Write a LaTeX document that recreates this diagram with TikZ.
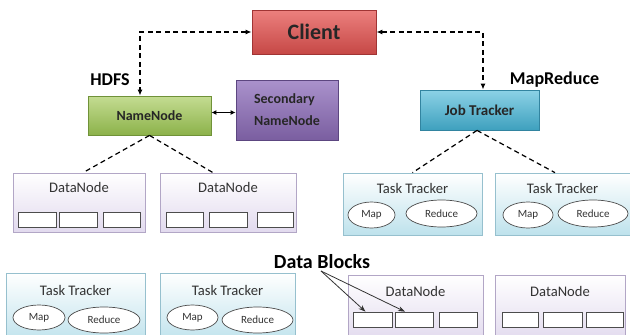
\documentclass[tikz,border=0pt]{standalone}
\usepackage{fontspec}
\setmainfont{Carlito}
\usetikzlibrary{shapes.geometric,shadows,arrows.meta,calc}
\definecolor{clA}{RGB}{236,128,126}
\definecolor{clB}{RGB}{198,72,70}
\definecolor{clD}{RGB}{160,52,52}
\definecolor{nnA}{RGB}{196,220,146}
\definecolor{nnB}{RGB}{140,178,74}
\definecolor{nnD}{RGB}{112,146,56}
\definecolor{snA}{RGB}{170,146,204}
\definecolor{snB}{RGB}{122,94,160}
\definecolor{snD}{RGB}{92,70,128}
\definecolor{jtA}{RGB}{140,210,230}
\definecolor{jtB}{RGB}{62,160,190}
\definecolor{jtD}{RGB}{50,132,160}
\definecolor{dnB}{RGB}{226,218,238}
\definecolor{dnD}{RGB}{178,166,198}
\definecolor{ttB}{RGB}{190,226,236}
\definecolor{ttD}{RGB}{150,192,206}
\tikzset{
  shbox/.style={draw, rectangle, inner sep=0pt, line width=0.8pt,
    drop shadow={opacity=0.35, shadow xshift=1.3pt, shadow yshift=-1.3pt}},
  clientbox/.style={shbox, top color=clA, bottom color=clB, draw=clD,
    minimum width=124pt, minimum height=44pt,
    font=\bfseries\fontsize{22}{24}\selectfont, text=black!85},
  nnbox/.style={shbox, top color=nnA, bottom color=nnB, draw=nnD,
    minimum width=123pt, minimum height=39pt,
    font=\bfseries\fontsize{14}{16}\selectfont, text=black!85},
  snbox/.style={shbox, top color=snA, bottom color=snB, draw=snD,
    minimum width=102pt, minimum height=60pt, align=left,
    font=\bfseries\fontsize{14}{22}\selectfont, text=black!85},
  jtbox/.style={shbox, top color=jtA, bottom color=jtB, draw=jtD,
    minimum width=119pt, minimum height=40pt,
    font=\bfseries\fontsize{15}{17}\selectfont, text=black!85},
  dnbox/.style={draw=dnD, rectangle, inner sep=0pt, line width=0.7pt,
    top color=white, bottom color=dnB,
    drop shadow={opacity=0.25, shadow xshift=1.2pt, shadow yshift=-1.2pt}},
  ttbox/.style={draw=ttD, rectangle, inner sep=0pt, line width=0.7pt,
    top color=white, bottom color=ttB,
    drop shadow={opacity=0.25, shadow xshift=1.2pt, shadow yshift=-1.2pt}},
  boxtitle/.style={font=\fontsize{14.6}{16}\selectfont, text=black!80, inner sep=0pt},
  blk/.style={draw=black!70, fill=white, rectangle, inner sep=0pt, line width=0.7pt,
    minimum height=15pt},
  oval/.style={draw=black!70, fill=white, ellipse, inner sep=0pt, line width=0.7pt,
    font=\fontsize{11}{12}\selectfont, text=black!80},
  biglabel/.style={font=\bfseries\fontsize{18}{20}\selectfont, text=black, inner sep=0pt},
  dashline/.style={draw=black, line width=1.2pt, dash pattern=on 5pt off 3.5pt},
  dtip/.style={{Latex[length=6pt,width=5pt]}-{Latex[length=6pt,width=5pt]}},
}
\begin{document}
\begin{tikzpicture}[x=1pt,y=-1pt]
\useasboundingbox (0,0) rectangle (630,335);
\clip (0,0) rectangle (630,335);
\fill[white] (0,0) rectangle (630,335);

% top level
\node[clientbox] (client) at (314,32) {Client};
\node[nnbox] (nn) at (149.5,115.5) {NameNode};
\node[snbox] (sn) at (287,110) {Secondary\\NameNode};
\node[jtbox] (jt) at (479.5,110) {Job Tracker};
\node[biglabel] (hdfs) at (110,80) {HDFS};
\node[biglabel] (mr) at (554.5,80) {MapReduce};

\draw[dashline, dtip] (client.west) -| ([xshift=-9.5pt]nn.north);
\draw[dashline, dtip] (client.east) -| ([xshift=3.5pt]jt.north);
\draw[line width=1pt, {Latex[length=5pt,width=5pt]}-{Latex[length=5pt,width=5pt]}]
  ([yshift=3pt]nn.east) -- ([yshift=3pt]nn.east -| sn.west);

% row 1 DataNodes
\node[dnbox, minimum width=132pt, minimum height=59pt] (dn1) at (79,202.5) {};
\node[boxtitle] (dn1t) at (79,187) {DataNode};
\node[blk, minimum width=38pt] (dn1a) at (37,219.5) {};
\node[blk, minimum width=38pt] (dn1b) at (78,219.5) {};
\node[blk, minimum width=37pt] (dn1c) at (121.5,219.5) {};

\node[dnbox, minimum width=136pt, minimum height=59pt] (dn2) at (228,202.5) {};
\node[boxtitle] (dn2t) at (228,187) {DataNode};
\node[blk, minimum width=37pt] (dn2a) at (184.5,219.5) {};
\node[blk, minimum width=38pt] (dn2b) at (228,219.5) {};
\node[blk, minimum width=36pt] (dn2c) at (275,219.5) {};

\draw[dashline] (nn.south) -- ([xshift=4pt]dn1.north);
\draw[dashline] (nn.south) -- ([xshift=-15pt]dn2.north);

% row 1 Task Trackers
\node[ttbox, minimum width=139pt, minimum height=62pt] (tt1) at (412.5,204) {};
\node[boxtitle] (tt1t) at (412.5,188) {Task Tracker};
\node[oval, minimum width=47pt, minimum height=26pt] (tt1m) at (371.5,215) {Map};
\node[oval, minimum width=71pt, minimum height=27pt] (tt1r) at (441.5,213.5) {Reduce};

\node[ttbox, minimum width=135pt, minimum height=62pt] (tt2) at (562.5,204) {};
\node[boxtitle] (tt2t) at (562.5,188) {Task Tracker};
\node[oval, minimum width=50pt, minimum height=26pt] (tt2m) at (528,215) {Map};
\node[oval, minimum width=70pt, minimum height=27pt] (tt2r) at (593,213.5) {Reduce};

\draw[dashline] ([xshift=-2.5pt]jt.south) -- (tt1.north);
\draw[dashline] ([xshift=-2.5pt]jt.south) -- ([xshift=-7.5pt]tt2.north);

% row 2 Task Trackers
\node[ttbox, minimum width=139pt, minimum height=70pt] (tt3) at (75.5,308) {};
\node[boxtitle] (tt3t) at (75.5,290) {Task Tracker};
\node[oval, minimum width=52pt, minimum height=25pt] (tt3m) at (39,317.5) {Map};
\node[oval, minimum width=72pt, minimum height=26pt] (tt3r) at (104,320) {Reduce};

\node[ttbox, minimum width=135pt, minimum height=70pt] (tt4) at (227.5,308) {};
\node[boxtitle] (tt4t) at (227.5,290) {Task Tracker};
\node[oval, minimum width=51pt, minimum height=25pt] (tt4m) at (192.5,317.5) {Map};
\node[oval, minimum width=71pt, minimum height=26pt] (tt4r) at (257.5,320) {Reduce};

% row 2 DataNodes
\node[dnbox, minimum width=135pt, minimum height=66pt] (dn3) at (415.5,308) {};
\node[boxtitle] (dn3t) at (415.5,291) {DataNode};
\node[blk, minimum width=39pt] (dn3a) at (372.5,319.5) {};
\node[blk, minimum width=38pt] (dn3b) at (414,319.5) {};
\node[blk, minimum width=38pt] (dn3c) at (458,319.5) {};

\node[dnbox, minimum width=130pt, minimum height=66pt] (dn4) at (560,308) {};
\node[boxtitle] (dn4t) at (560,291) {DataNode};
\node[blk, minimum width=36pt] (dn4a) at (520,319.5) {};
\node[blk, minimum width=39pt] (dn4b) at (562.5,319.5) {};
\node[blk, minimum width=37pt] (dn4c) at (604.5,319.5) {};

% Data Blocks label and arrows
\node[font=\bfseries\fontsize{20}{22}\selectfont, inner sep=0pt] (dbl) at (322,262) {Data Blocks};
\coordinate (dbs) at (321,271);
\draw[black!80, line width=0.8pt, -{Stealth[length=7pt,width=5pt]}] (dbs) -- ([xshift=-7pt]dn3a.north);
\draw[black!80, line width=0.8pt, -{Stealth[length=7pt,width=5pt]}] (dbs) -- ([xshift=-9pt]dn3b.north);
\end{tikzpicture}
\end{document}
